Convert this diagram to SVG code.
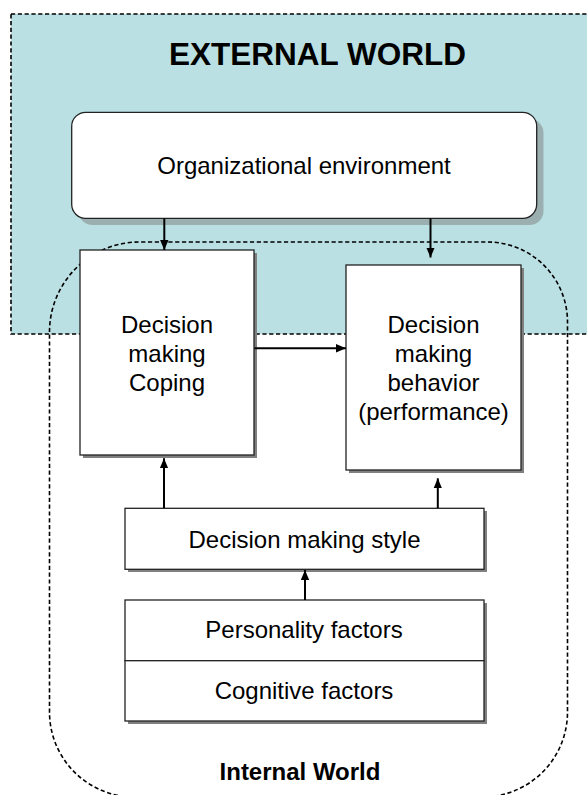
<svg xmlns="http://www.w3.org/2000/svg" width="587" height="795" viewBox="0 0 587 795">
<defs>
<style>
.dash{fill:none;stroke:#000;stroke-width:1.6;stroke-dasharray:4.2 2.6}
.box{fill:#fff;stroke:#222;stroke-width:1.3}
.sh{fill:#808080}
.t{font-family:"Liberation Sans",Arial,sans-serif;font-size:24px;fill:#000;text-anchor:middle}
.b{font-weight:bold}
.c{stroke:#000;stroke-width:2;fill:none;marker-end:url(#ah)}
</style>
<marker id="ah" viewBox="0 0 10 10" refX="10" refY="5" markerWidth="10" markerHeight="10" markerUnits="userSpaceOnUse" orient="auto">
<path d="M0,0.8 L10,5 L0,9.2 z" fill="#000"/>
</marker>
</defs>
<g id="external-world">
<rect x="11" y="14" width="590" height="320" class="dash" style="fill:#BAE0E3"/>
<text class="t b" x="317.5" y="64.5" style="font-size:31.5px">EXTERNAL WORLD</text>
</g>
<g id="internal-world">
<path class="dash" d="M49.5,332 A90,90 0 0 1 139.5,242 L487.5,242 A80,80 0 0 1 567.5,322 L567.5,712 A85,85 0 0 1 482.5,797 L134.5,797 A85,85 0 0 1 49.5,712 Z"/>
<text class="t b" x="300" y="780">Internal World</text>
</g>
<g id="organizational-environment">
<rect x="78.5" y="119" width="465" height="106" rx="14" fill="#9BAFB1"/>
<rect class="box" x="71.7" y="112.3" width="465" height="106" rx="14"/>
<text class="t" x="304" y="174.3">Organizational environment</text>
</g>
<g id="decision-making-coping">
<rect class="sh" x="83" y="253" width="174" height="205"/>
<rect class="box" x="80" y="250" width="174" height="205"/>
<text class="t" x="167" y="333">Decision</text>
<text class="t" x="167" y="362">making</text>
<text class="t" x="167" y="391">Coping</text>
</g>
<g id="decision-making-behavior">
<rect class="sh" x="349" y="268" width="175" height="205"/>
<rect class="box" x="346" y="265" width="175" height="205"/>
<text class="t" x="433.5" y="333">Decision</text>
<text class="t" x="433.5" y="362">making</text>
<text class="t" x="433.5" y="391">behavior</text>
<text class="t" x="433.5" y="420">(performance)</text>
</g>
<g id="decision-making-style">
<rect class="sh" x="128" y="511" width="359" height="61"/>
<rect class="box" x="125" y="508.3" width="359" height="61"/>
<text class="t" x="304.5" y="548.3">Decision making style</text>
</g>
<g id="personality-factors">
<rect class="sh" x="128" y="603" width="359" height="121"/>
<rect class="box" x="125" y="600" width="359" height="60.7"/>
<text class="t" x="304" y="638.3">Personality factors</text>
</g>
<g id="cognitive-factors">
<rect class="box" x="125" y="660.7" width="359" height="60.3"/>
<text class="t" x="304" y="699.3">Cognitive factors</text>
</g>
<g id="connectors">
<line class="c" x1="164.3" y1="218.5" x2="164.3" y2="250"/>
<line class="c" x1="430.5" y1="218.5" x2="430.5" y2="257.5"/>
<line class="c" x1="254.5" y1="348.3" x2="346" y2="348.3"/>
<line class="c" x1="164" y1="508" x2="164" y2="458.3"/>
<line class="c" x1="437.8" y1="508" x2="437.8" y2="478.3"/>
<line class="c" x1="305" y1="600" x2="305" y2="570"/>
</g>
</svg>
